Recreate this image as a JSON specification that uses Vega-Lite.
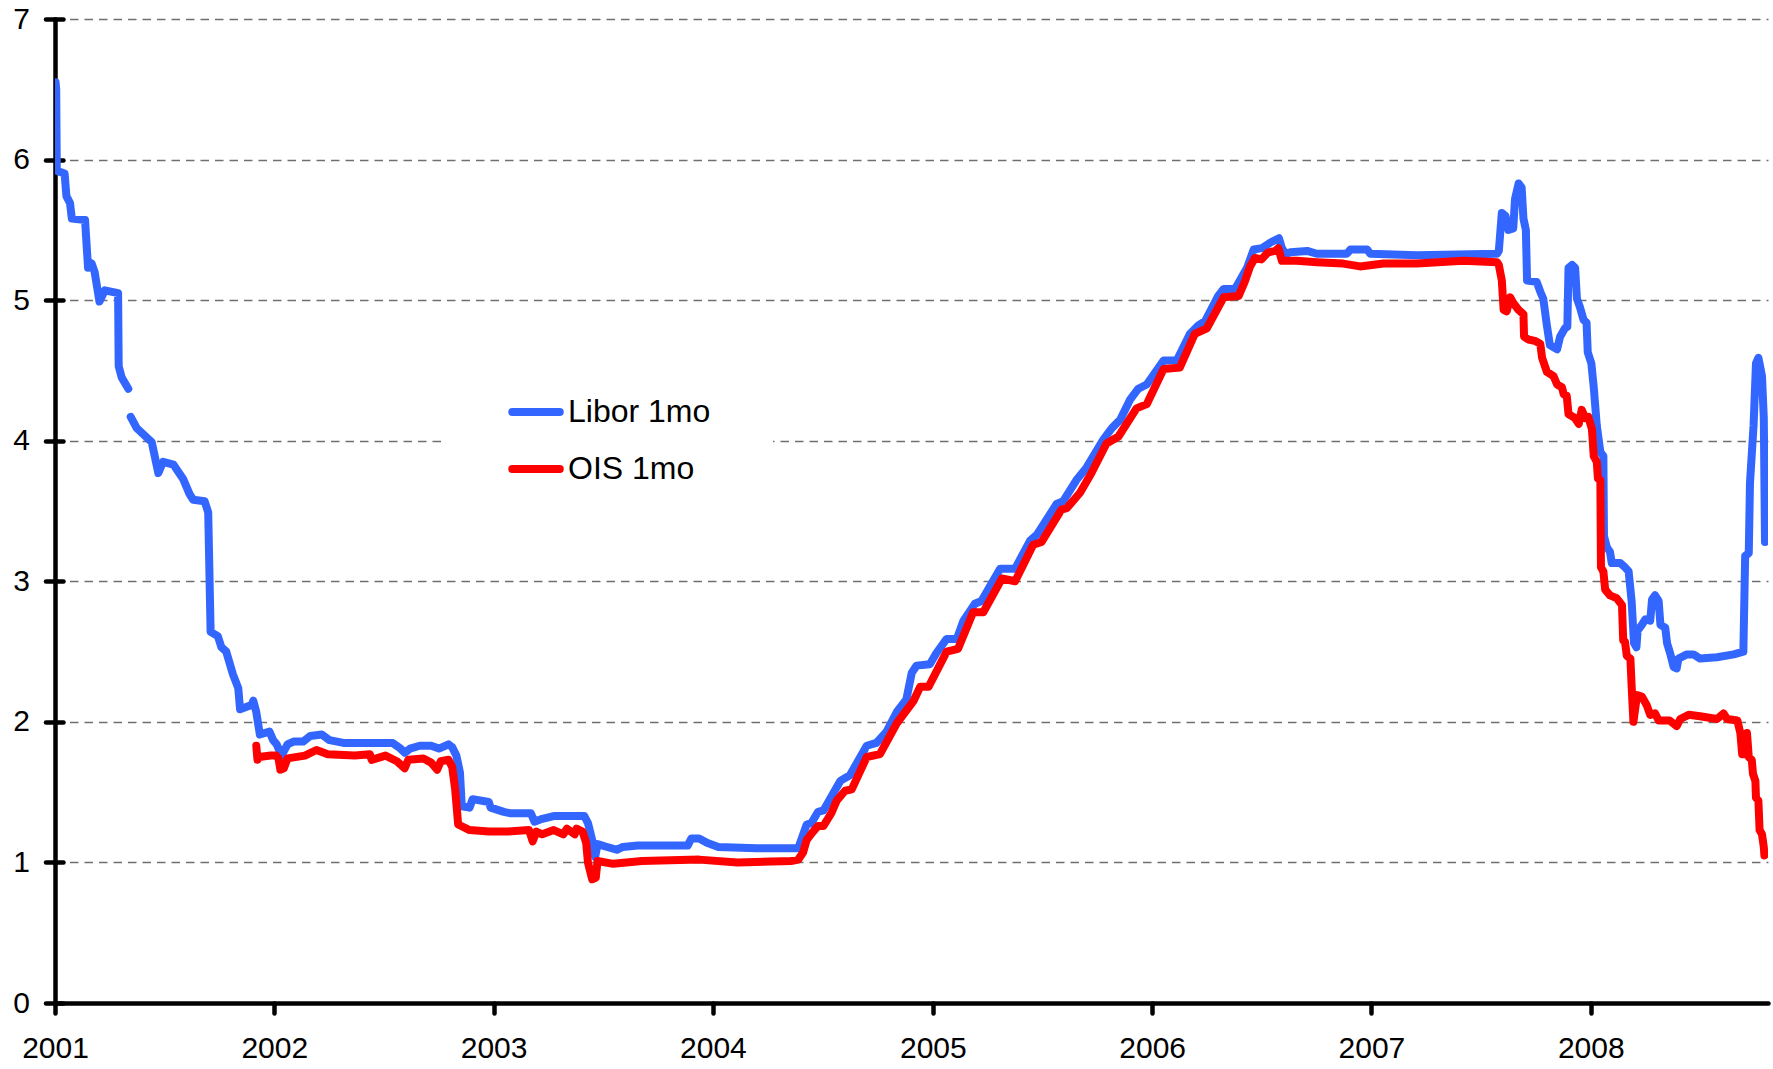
{
  "$schema": "https://vega.github.io/schema/vega-lite/v6.json",
  "width": 1713,
  "height": 984,
  "autosize": "none",
  "padding": {"left": 55, "top": 19, "right": 5, "bottom": 66},
  "background": "white",
  "config": {"view": {"stroke": null}, "font": "Liberation Sans"},
  "data": {"values": [
    {"date":"2001-01-02","series":"Libor 1mo","rate":6.55},
    {"date":"2001-01-03","series":"Libor 1mo","rate":6.50},
    {"date":"2001-01-04","series":"Libor 1mo","rate":5.92},
    {"date":"2001-01-17","series":"Libor 1mo","rate":5.90},
    {"date":"2001-01-20","series":"Libor 1mo","rate":5.74},
    {"date":"2001-01-26","series":"Libor 1mo","rate":5.69},
    {"date":"2001-01-29","series":"Libor 1mo","rate":5.58},
    {"date":"2001-02-20","series":"Libor 1mo","rate":5.57},
    {"date":"2001-02-25","series":"Libor 1mo","rate":5.23},
    {"date":"2001-03-03","series":"Libor 1mo","rate":5.26},
    {"date":"2001-03-08","series":"Libor 1mo","rate":5.20},
    {"date":"2001-03-16","series":"Libor 1mo","rate":4.99},
    {"date":"2001-03-25","series":"Libor 1mo","rate":5.07},
    {"date":"2001-04-16","series":"Libor 1mo","rate":5.05},
    {"date":"2001-04-17","series":"Libor 1mo","rate":4.53},
    {"date":"2001-04-22","series":"Libor 1mo","rate":4.45},
    {"date":"2001-05-03","series":"Libor 1mo","rate":4.37},
    {"date":"2001-05-04","series":"Libor 1mo","rate":null},
    {"date":"2001-05-07","series":"Libor 1mo","rate":4.17},
    {"date":"2001-05-17","series":"Libor 1mo","rate":4.09},
    {"date":"2001-06-11","series":"Libor 1mo","rate":3.99},
    {"date":"2001-06-22","series":"Libor 1mo","rate":3.77},
    {"date":"2001-06-30","series":"Libor 1mo","rate":3.85},
    {"date":"2001-07-17","series":"Libor 1mo","rate":3.83},
    {"date":"2001-08-02","series":"Libor 1mo","rate":3.73},
    {"date":"2001-08-13","series":"Libor 1mo","rate":3.62},
    {"date":"2001-08-19","series":"Libor 1mo","rate":3.58},
    {"date":"2001-09-07","series":"Libor 1mo","rate":3.57},
    {"date":"2001-09-13","series":"Libor 1mo","rate":3.49},
    {"date":"2001-09-17","series":"Libor 1mo","rate":2.64},
    {"date":"2001-09-29","series":"Libor 1mo","rate":2.61},
    {"date":"2001-10-05","series":"Libor 1mo","rate":2.53},
    {"date":"2001-10-13","series":"Libor 1mo","rate":2.50},
    {"date":"2001-10-24","series":"Libor 1mo","rate":2.34},
    {"date":"2001-11-02","series":"Libor 1mo","rate":2.24},
    {"date":"2001-11-05","series":"Libor 1mo","rate":2.09},
    {"date":"2001-11-24","series":"Libor 1mo","rate":2.12},
    {"date":"2001-11-27","series":"Libor 1mo","rate":2.15},
    {"date":"2001-12-02","series":"Libor 1mo","rate":2.07},
    {"date":"2001-12-08","series":"Libor 1mo","rate":1.91},
    {"date":"2001-12-24","series":"Libor 1mo","rate":1.93},
    {"date":"2001-12-30","series":"Libor 1mo","rate":1.87},
    {"date":"2002-01-05","series":"Libor 1mo","rate":1.84},
    {"date":"2002-01-13","series":"Libor 1mo","rate":1.76},
    {"date":"2002-01-23","series":"Libor 1mo","rate":1.84},
    {"date":"2002-02-02","series":"Libor 1mo","rate":1.86},
    {"date":"2002-02-18","series":"Libor 1mo","rate":1.86},
    {"date":"2002-03-02","series":"Libor 1mo","rate":1.90},
    {"date":"2002-03-21","series":"Libor 1mo","rate":1.91},
    {"date":"2002-04-03","series":"Libor 1mo","rate":1.87},
    {"date":"2002-04-26","series":"Libor 1mo","rate":1.85},
    {"date":"2002-07-17","series":"Libor 1mo","rate":1.85},
    {"date":"2002-07-30","series":"Libor 1mo","rate":1.81},
    {"date":"2002-08-06","series":"Libor 1mo","rate":1.78},
    {"date":"2002-08-15","series":"Libor 1mo","rate":1.81},
    {"date":"2002-08-31","series":"Libor 1mo","rate":1.83},
    {"date":"2002-09-19","series":"Libor 1mo","rate":1.83},
    {"date":"2002-10-02","series":"Libor 1mo","rate":1.81},
    {"date":"2002-10-18","series":"Libor 1mo","rate":1.84},
    {"date":"2002-10-24","series":"Libor 1mo","rate":1.82},
    {"date":"2002-10-31","series":"Libor 1mo","rate":1.76},
    {"date":"2002-11-06","series":"Libor 1mo","rate":1.64},
    {"date":"2002-11-09","series":"Libor 1mo","rate":1.40},
    {"date":"2002-11-22","series":"Libor 1mo","rate":1.39},
    {"date":"2002-11-27","series":"Libor 1mo","rate":1.45},
    {"date":"2002-12-24","series":"Libor 1mo","rate":1.43},
    {"date":"2002-12-27","series":"Libor 1mo","rate":1.39},
    {"date":"2003-01-18","series":"Libor 1mo","rate":1.36},
    {"date":"2003-01-28","series":"Libor 1mo","rate":1.35},
    {"date":"2003-03-04","series":"Libor 1mo","rate":1.35},
    {"date":"2003-03-10","series":"Libor 1mo","rate":1.29},
    {"date":"2003-03-23","series":"Libor 1mo","rate":1.31},
    {"date":"2003-04-11","series":"Libor 1mo","rate":1.33},
    {"date":"2003-06-01","series":"Libor 1mo","rate":1.33},
    {"date":"2003-06-07","series":"Libor 1mo","rate":1.28},
    {"date":"2003-06-14","series":"Libor 1mo","rate":1.16},
    {"date":"2003-06-19","series":"Libor 1mo","rate":1.04},
    {"date":"2003-06-23","series":"Libor 1mo","rate":1.13},
    {"date":"2003-07-09","series":"Libor 1mo","rate":1.11},
    {"date":"2003-07-25","series":"Libor 1mo","rate":1.09},
    {"date":"2003-08-04","series":"Libor 1mo","rate":1.11},
    {"date":"2003-08-29","series":"Libor 1mo","rate":1.12},
    {"date":"2003-11-20","series":"Libor 1mo","rate":1.12},
    {"date":"2003-11-26","series":"Libor 1mo","rate":1.17},
    {"date":"2003-12-09","series":"Libor 1mo","rate":1.17},
    {"date":"2003-12-22","series":"Libor 1mo","rate":1.14},
    {"date":"2004-01-10","series":"Libor 1mo","rate":1.11},
    {"date":"2004-03-14","series":"Libor 1mo","rate":1.10},
    {"date":"2004-05-22","series":"Libor 1mo","rate":1.10},
    {"date":"2004-06-05","series":"Libor 1mo","rate":1.27},
    {"date":"2004-06-13","series":"Libor 1mo","rate":1.28},
    {"date":"2004-06-24","series":"Libor 1mo","rate":1.36},
    {"date":"2004-07-03","series":"Libor 1mo","rate":1.37},
    {"date":"2004-07-31","series":"Libor 1mo","rate":1.58},
    {"date":"2004-08-16","series":"Libor 1mo","rate":1.62},
    {"date":"2004-09-13","series":"Libor 1mo","rate":1.83},
    {"date":"2004-09-29","series":"Libor 1mo","rate":1.85},
    {"date":"2004-10-16","series":"Libor 1mo","rate":1.93},
    {"date":"2004-11-02","series":"Libor 1mo","rate":2.07},
    {"date":"2004-11-18","series":"Libor 1mo","rate":2.16},
    {"date":"2004-11-27","series":"Libor 1mo","rate":2.35},
    {"date":"2004-12-05","series":"Libor 1mo","rate":2.40},
    {"date":"2004-12-27","series":"Libor 1mo","rate":2.41},
    {"date":"2005-01-07","series":"Libor 1mo","rate":2.49},
    {"date":"2005-01-24","series":"Libor 1mo","rate":2.59},
    {"date":"2005-02-10","series":"Libor 1mo","rate":2.59},
    {"date":"2005-02-21","series":"Libor 1mo","rate":2.72},
    {"date":"2005-03-12","series":"Libor 1mo","rate":2.84},
    {"date":"2005-03-23","series":"Libor 1mo","rate":2.86},
    {"date":"2005-04-23","series":"Libor 1mo","rate":3.09},
    {"date":"2005-05-18","series":"Libor 1mo","rate":3.09},
    {"date":"2005-06-12","series":"Libor 1mo","rate":3.29},
    {"date":"2005-06-23","series":"Libor 1mo","rate":3.33},
    {"date":"2005-07-26","series":"Libor 1mo","rate":3.55},
    {"date":"2005-08-06","series":"Libor 1mo","rate":3.57},
    {"date":"2005-08-28","series":"Libor 1mo","rate":3.72},
    {"date":"2005-09-14","series":"Libor 1mo","rate":3.81},
    {"date":"2005-10-12","series":"Libor 1mo","rate":4.01},
    {"date":"2005-10-26","series":"Libor 1mo","rate":4.09},
    {"date":"2005-11-09","series":"Libor 1mo","rate":4.15},
    {"date":"2005-11-25","series":"Libor 1mo","rate":4.29},
    {"date":"2005-12-09","series":"Libor 1mo","rate":4.37},
    {"date":"2005-12-23","series":"Libor 1mo","rate":4.40},
    {"date":"2006-01-20","series":"Libor 1mo","rate":4.57},
    {"date":"2006-02-11","series":"Libor 1mo","rate":4.57},
    {"date":"2006-03-05","series":"Libor 1mo","rate":4.76},
    {"date":"2006-03-19","series":"Libor 1mo","rate":4.82},
    {"date":"2006-03-30","series":"Libor 1mo","rate":4.85},
    {"date":"2006-04-21","series":"Libor 1mo","rate":5.03},
    {"date":"2006-04-30","series":"Libor 1mo","rate":5.08},
    {"date":"2006-05-19","series":"Libor 1mo","rate":5.08},
    {"date":"2006-06-08","series":"Libor 1mo","rate":5.23},
    {"date":"2006-06-19","series":"Libor 1mo","rate":5.36},
    {"date":"2006-07-03","series":"Libor 1mo","rate":5.37},
    {"date":"2006-07-17","series":"Libor 1mo","rate":5.41},
    {"date":"2006-07-31","series":"Libor 1mo","rate":5.44},
    {"date":"2006-08-05","series":"Libor 1mo","rate":5.37},
    {"date":"2006-08-11","series":"Libor 1mo","rate":5.33},
    {"date":"2006-08-19","series":"Libor 1mo","rate":5.34},
    {"date":"2006-09-16","series":"Libor 1mo","rate":5.35},
    {"date":"2006-10-02","series":"Libor 1mo","rate":5.33},
    {"date":"2006-11-21","series":"Libor 1mo","rate":5.33},
    {"date":"2006-11-27","series":"Libor 1mo","rate":5.36},
    {"date":"2006-12-25","series":"Libor 1mo","rate":5.36},
    {"date":"2006-12-30","series":"Libor 1mo","rate":5.33},
    {"date":"2007-03-18","series":"Libor 1mo","rate":5.32},
    {"date":"2007-07-29","series":"Libor 1mo","rate":5.33},
    {"date":"2007-08-01","series":"Libor 1mo","rate":5.35},
    {"date":"2007-08-06","series":"Libor 1mo","rate":5.62},
    {"date":"2007-08-12","series":"Libor 1mo","rate":5.60},
    {"date":"2007-08-17","series":"Libor 1mo","rate":5.50},
    {"date":"2007-08-25","series":"Libor 1mo","rate":5.51},
    {"date":"2007-08-28","series":"Libor 1mo","rate":5.72},
    {"date":"2007-09-03","series":"Libor 1mo","rate":5.83},
    {"date":"2007-09-08","series":"Libor 1mo","rate":5.80},
    {"date":"2007-09-11","series":"Libor 1mo","rate":5.58},
    {"date":"2007-09-15","series":"Libor 1mo","rate":5.50},
    {"date":"2007-09-17","series":"Libor 1mo","rate":5.14},
    {"date":"2007-10-03","series":"Libor 1mo","rate":5.13},
    {"date":"2007-10-09","series":"Libor 1mo","rate":5.06},
    {"date":"2007-10-14","series":"Libor 1mo","rate":5.01},
    {"date":"2007-10-20","series":"Libor 1mo","rate":4.82},
    {"date":"2007-10-25","series":"Libor 1mo","rate":4.68},
    {"date":"2007-11-06","series":"Libor 1mo","rate":4.65},
    {"date":"2007-11-11","series":"Libor 1mo","rate":4.74},
    {"date":"2007-11-19","series":"Libor 1mo","rate":4.80},
    {"date":"2007-11-23","series":"Libor 1mo","rate":4.81},
    {"date":"2007-11-25","series":"Libor 1mo","rate":5.23},
    {"date":"2007-12-01","series":"Libor 1mo","rate":5.25},
    {"date":"2007-12-06","series":"Libor 1mo","rate":5.23},
    {"date":"2007-12-09","series":"Libor 1mo","rate":5.01},
    {"date":"2007-12-14","series":"Libor 1mo","rate":4.95},
    {"date":"2007-12-20","series":"Libor 1mo","rate":4.86},
    {"date":"2007-12-25","series":"Libor 1mo","rate":4.84},
    {"date":"2007-12-27","series":"Libor 1mo","rate":4.63},
    {"date":"2008-01-02","series":"Libor 1mo","rate":4.55},
    {"date":"2008-01-06","series":"Libor 1mo","rate":4.38},
    {"date":"2008-01-11","series":"Libor 1mo","rate":4.11},
    {"date":"2008-01-17","series":"Libor 1mo","rate":3.92},
    {"date":"2008-01-22","series":"Libor 1mo","rate":3.89},
    {"date":"2008-01-23","series":"Libor 1mo","rate":3.32},
    {"date":"2008-01-28","series":"Libor 1mo","rate":3.24},
    {"date":"2008-02-02","series":"Libor 1mo","rate":3.21},
    {"date":"2008-02-05","series":"Libor 1mo","rate":3.13},
    {"date":"2008-02-19","series":"Libor 1mo","rate":3.13},
    {"date":"2008-02-27","series":"Libor 1mo","rate":3.10},
    {"date":"2008-03-04","series":"Libor 1mo","rate":3.07},
    {"date":"2008-03-09","series":"Libor 1mo","rate":2.86},
    {"date":"2008-03-13","series":"Libor 1mo","rate":2.56},
    {"date":"2008-03-17","series":"Libor 1mo","rate":2.53},
    {"date":"2008-03-19","series":"Libor 1mo","rate":2.65},
    {"date":"2008-03-26","series":"Libor 1mo","rate":2.69},
    {"date":"2008-04-01","series":"Libor 1mo","rate":2.73},
    {"date":"2008-04-09","series":"Libor 1mo","rate":2.72},
    {"date":"2008-04-12","series":"Libor 1mo","rate":2.87},
    {"date":"2008-04-17","series":"Libor 1mo","rate":2.90},
    {"date":"2008-04-23","series":"Libor 1mo","rate":2.86},
    {"date":"2008-04-26","series":"Libor 1mo","rate":2.69},
    {"date":"2008-05-04","series":"Libor 1mo","rate":2.67},
    {"date":"2008-05-07","series":"Libor 1mo","rate":2.56},
    {"date":"2008-05-12","series":"Libor 1mo","rate":2.49},
    {"date":"2008-05-18","series":"Libor 1mo","rate":2.39},
    {"date":"2008-05-23","series":"Libor 1mo","rate":2.38},
    {"date":"2008-05-26","series":"Libor 1mo","rate":2.45},
    {"date":"2008-06-09","series":"Libor 1mo","rate":2.48},
    {"date":"2008-06-20","series":"Libor 1mo","rate":2.48},
    {"date":"2008-07-01","series":"Libor 1mo","rate":2.45},
    {"date":"2008-07-29","series":"Libor 1mo","rate":2.46},
    {"date":"2008-08-26","series":"Libor 1mo","rate":2.48},
    {"date":"2008-09-11","series":"Libor 1mo","rate":2.50},
    {"date":"2008-09-14","series":"Libor 1mo","rate":3.18},
    {"date":"2008-09-20","series":"Libor 1mo","rate":3.20},
    {"date":"2008-09-22","series":"Libor 1mo","rate":3.70},
    {"date":"2008-09-28","series":"Libor 1mo","rate":4.11},
    {"date":"2008-10-02","series":"Libor 1mo","rate":4.55},
    {"date":"2008-10-06","series":"Libor 1mo","rate":4.59},
    {"date":"2008-10-12","series":"Libor 1mo","rate":4.46},
    {"date":"2008-10-15","series":"Libor 1mo","rate":4.16},
    {"date":"2008-10-17","series":"Libor 1mo","rate":3.28},
    {"date":"2001-12-02","series":"OIS 1mo","rate":1.83},
    {"date":"2001-12-04","series":"OIS 1mo","rate":1.73},
    {"date":"2001-12-07","series":"OIS 1mo","rate":1.75},
    {"date":"2001-12-26","series":"OIS 1mo","rate":1.76},
    {"date":"2002-01-04","series":"OIS 1mo","rate":1.76},
    {"date":"2002-01-08","series":"OIS 1mo","rate":1.74},
    {"date":"2002-01-11","series":"OIS 1mo","rate":1.66},
    {"date":"2002-01-17","series":"OIS 1mo","rate":1.67},
    {"date":"2002-01-23","series":"OIS 1mo","rate":1.74},
    {"date":"2002-02-21","series":"OIS 1mo","rate":1.76},
    {"date":"2002-03-12","series":"OIS 1mo","rate":1.80},
    {"date":"2002-03-31","series":"OIS 1mo","rate":1.77},
    {"date":"2002-05-15","series":"OIS 1mo","rate":1.76},
    {"date":"2002-06-09","series":"OIS 1mo","rate":1.77},
    {"date":"2002-06-12","series":"OIS 1mo","rate":1.73},
    {"date":"2002-07-05","series":"OIS 1mo","rate":1.76},
    {"date":"2002-07-24","series":"OIS 1mo","rate":1.72},
    {"date":"2002-08-06","series":"OIS 1mo","rate":1.67},
    {"date":"2002-08-12","series":"OIS 1mo","rate":1.73},
    {"date":"2002-09-06","series":"OIS 1mo","rate":1.74},
    {"date":"2002-09-19","series":"OIS 1mo","rate":1.71},
    {"date":"2002-09-29","series":"OIS 1mo","rate":1.66},
    {"date":"2002-10-05","series":"OIS 1mo","rate":1.72},
    {"date":"2002-10-18","series":"OIS 1mo","rate":1.73},
    {"date":"2002-10-24","series":"OIS 1mo","rate":1.68},
    {"date":"2002-10-29","series":"OIS 1mo","rate":1.52},
    {"date":"2002-11-03","series":"OIS 1mo","rate":1.27},
    {"date":"2002-11-22","series":"OIS 1mo","rate":1.23},
    {"date":"2002-12-24","series":"OIS 1mo","rate":1.22},
    {"date":"2003-01-25","series":"OIS 1mo","rate":1.22},
    {"date":"2003-03-01","series":"OIS 1mo","rate":1.23},
    {"date":"2003-03-07","series":"OIS 1mo","rate":1.15},
    {"date":"2003-03-13","series":"OIS 1mo","rate":1.22},
    {"date":"2003-03-23","series":"OIS 1mo","rate":1.20},
    {"date":"2003-04-11","series":"OIS 1mo","rate":1.23},
    {"date":"2003-04-27","series":"OIS 1mo","rate":1.20},
    {"date":"2003-05-03","series":"OIS 1mo","rate":1.24},
    {"date":"2003-05-16","series":"OIS 1mo","rate":1.20},
    {"date":"2003-05-19","series":"OIS 1mo","rate":1.24},
    {"date":"2003-05-29","series":"OIS 1mo","rate":1.22},
    {"date":"2003-06-04","series":"OIS 1mo","rate":1.14},
    {"date":"2003-06-07","series":"OIS 1mo","rate":1.00},
    {"date":"2003-06-14","series":"OIS 1mo","rate":0.88},
    {"date":"2003-06-20","series":"OIS 1mo","rate":0.89},
    {"date":"2003-06-23","series":"OIS 1mo","rate":1.01},
    {"date":"2003-07-19","series":"OIS 1mo","rate":0.99},
    {"date":"2003-09-05","series":"OIS 1mo","rate":1.01},
    {"date":"2003-12-09","series":"OIS 1mo","rate":1.02},
    {"date":"2004-02-11","series":"OIS 1mo","rate":1.00},
    {"date":"2004-05-10","series":"OIS 1mo","rate":1.01},
    {"date":"2004-05-22","series":"OIS 1mo","rate":1.02},
    {"date":"2004-05-30","series":"OIS 1mo","rate":1.07},
    {"date":"2004-06-05","series":"OIS 1mo","rate":1.16},
    {"date":"2004-06-14","series":"OIS 1mo","rate":1.21},
    {"date":"2004-06-24","series":"OIS 1mo","rate":1.26},
    {"date":"2004-07-03","series":"OIS 1mo","rate":1.26},
    {"date":"2004-07-16","series":"OIS 1mo","rate":1.35},
    {"date":"2004-07-25","series":"OIS 1mo","rate":1.44},
    {"date":"2004-08-08","series":"OIS 1mo","rate":1.51},
    {"date":"2004-08-19","series":"OIS 1mo","rate":1.52},
    {"date":"2004-09-13","series":"OIS 1mo","rate":1.75},
    {"date":"2004-10-05","series":"OIS 1mo","rate":1.77},
    {"date":"2004-11-02","series":"OIS 1mo","rate":1.99},
    {"date":"2004-11-30","series":"OIS 1mo","rate":2.15},
    {"date":"2004-12-11","series":"OIS 1mo","rate":2.25},
    {"date":"2004-12-25","series":"OIS 1mo","rate":2.25},
    {"date":"2005-01-24","series":"OIS 1mo","rate":2.50},
    {"date":"2005-02-12","series":"OIS 1mo","rate":2.52},
    {"date":"2005-03-09","series":"OIS 1mo","rate":2.78},
    {"date":"2005-03-26","series":"OIS 1mo","rate":2.78},
    {"date":"2005-04-26","series":"OIS 1mo","rate":3.02},
    {"date":"2005-05-18","series":"OIS 1mo","rate":3.00},
    {"date":"2005-06-17","series":"OIS 1mo","rate":3.26},
    {"date":"2005-07-01","series":"OIS 1mo","rate":3.28},
    {"date":"2005-08-03","series":"OIS 1mo","rate":3.51},
    {"date":"2005-08-12","series":"OIS 1mo","rate":3.52},
    {"date":"2005-09-03","series":"OIS 1mo","rate":3.63},
    {"date":"2005-09-22","series":"OIS 1mo","rate":3.77},
    {"date":"2005-10-17","series":"OIS 1mo","rate":3.98},
    {"date":"2005-11-06","series":"OIS 1mo","rate":4.03},
    {"date":"2005-12-06","series":"OIS 1mo","rate":4.23},
    {"date":"2005-12-23","series":"OIS 1mo","rate":4.26},
    {"date":"2006-01-20","series":"OIS 1mo","rate":4.51},
    {"date":"2006-02-16","series":"OIS 1mo","rate":4.52},
    {"date":"2006-03-13","series":"OIS 1mo","rate":4.76},
    {"date":"2006-04-02","series":"OIS 1mo","rate":4.80},
    {"date":"2006-04-30","series":"OIS 1mo","rate":5.02},
    {"date":"2006-05-25","series":"OIS 1mo","rate":5.03},
    {"date":"2006-06-04","series":"OIS 1mo","rate":5.13},
    {"date":"2006-06-13","series":"OIS 1mo","rate":5.24},
    {"date":"2006-06-21","series":"OIS 1mo","rate":5.30},
    {"date":"2006-07-02","series":"OIS 1mo","rate":5.29},
    {"date":"2006-07-13","series":"OIS 1mo","rate":5.34},
    {"date":"2006-07-25","series":"OIS 1mo","rate":5.35},
    {"date":"2006-07-30","series":"OIS 1mo","rate":5.37},
    {"date":"2006-08-05","series":"OIS 1mo","rate":5.28},
    {"date":"2006-08-30","series":"OIS 1mo","rate":5.28},
    {"date":"2006-10-02","series":"OIS 1mo","rate":5.27},
    {"date":"2006-11-15","series":"OIS 1mo","rate":5.26},
    {"date":"2006-12-13","series":"OIS 1mo","rate":5.24},
    {"date":"2007-01-21","series":"OIS 1mo","rate":5.26},
    {"date":"2007-03-17","series":"OIS 1mo","rate":5.26},
    {"date":"2007-06-03","series":"OIS 1mo","rate":5.28},
    {"date":"2007-07-29","series":"OIS 1mo","rate":5.27},
    {"date":"2007-08-01","series":"OIS 1mo","rate":5.25},
    {"date":"2007-08-06","series":"OIS 1mo","rate":5.14},
    {"date":"2007-08-09","series":"OIS 1mo","rate":4.93},
    {"date":"2007-08-14","series":"OIS 1mo","rate":4.92},
    {"date":"2007-08-20","series":"OIS 1mo","rate":5.02},
    {"date":"2007-08-25","series":"OIS 1mo","rate":4.98},
    {"date":"2007-09-03","series":"OIS 1mo","rate":4.93},
    {"date":"2007-09-11","series":"OIS 1mo","rate":4.90},
    {"date":"2007-09-12","series":"OIS 1mo","rate":4.74},
    {"date":"2007-09-19","series":"OIS 1mo","rate":4.72},
    {"date":"2007-09-30","series":"OIS 1mo","rate":4.71},
    {"date":"2007-10-09","series":"OIS 1mo","rate":4.69},
    {"date":"2007-10-12","series":"OIS 1mo","rate":4.59},
    {"date":"2007-10-20","series":"OIS 1mo","rate":4.49},
    {"date":"2007-10-31","series":"OIS 1mo","rate":4.46},
    {"date":"2007-11-06","series":"OIS 1mo","rate":4.40},
    {"date":"2007-11-14","series":"OIS 1mo","rate":4.38},
    {"date":"2007-11-17","series":"OIS 1mo","rate":4.33},
    {"date":"2007-11-22","series":"OIS 1mo","rate":4.32},
    {"date":"2007-11-25","series":"OIS 1mo","rate":4.19},
    {"date":"2007-12-06","series":"OIS 1mo","rate":4.16},
    {"date":"2007-12-12","series":"OIS 1mo","rate":4.12},
    {"date":"2007-12-17","series":"OIS 1mo","rate":4.22},
    {"date":"2007-12-23","series":"OIS 1mo","rate":4.16},
    {"date":"2007-12-28","series":"OIS 1mo","rate":4.17},
    {"date":"2008-01-03","series":"OIS 1mo","rate":4.08},
    {"date":"2008-01-06","series":"OIS 1mo","rate":3.89},
    {"date":"2008-01-11","series":"OIS 1mo","rate":3.85},
    {"date":"2008-01-13","series":"OIS 1mo","rate":3.73},
    {"date":"2008-01-17","series":"OIS 1mo","rate":3.72},
    {"date":"2008-01-18","series":"OIS 1mo","rate":3.10},
    {"date":"2008-01-22","series":"OIS 1mo","rate":3.07},
    {"date":"2008-01-25","series":"OIS 1mo","rate":2.94},
    {"date":"2008-02-02","series":"OIS 1mo","rate":2.90},
    {"date":"2008-02-13","series":"OIS 1mo","rate":2.88},
    {"date":"2008-02-22","series":"OIS 1mo","rate":2.83},
    {"date":"2008-02-24","series":"OIS 1mo","rate":2.58},
    {"date":"2008-02-27","series":"OIS 1mo","rate":2.57},
    {"date":"2008-03-01","series":"OIS 1mo","rate":2.47},
    {"date":"2008-03-07","series":"OIS 1mo","rate":2.45},
    {"date":"2008-03-09","series":"OIS 1mo","rate":2.26},
    {"date":"2008-03-12","series":"OIS 1mo","rate":2.00},
    {"date":"2008-03-18","series":"OIS 1mo","rate":2.19},
    {"date":"2008-03-26","series":"OIS 1mo","rate":2.18},
    {"date":"2008-04-03","series":"OIS 1mo","rate":2.12},
    {"date":"2008-04-09","series":"OIS 1mo","rate":2.05},
    {"date":"2008-04-17","series":"OIS 1mo","rate":2.06},
    {"date":"2008-04-23","series":"OIS 1mo","rate":2.01},
    {"date":"2008-05-11","series":"OIS 1mo","rate":2.01},
    {"date":"2008-05-23","series":"OIS 1mo","rate":1.97},
    {"date":"2008-05-29","series":"OIS 1mo","rate":2.02},
    {"date":"2008-06-12","series":"OIS 1mo","rate":2.05},
    {"date":"2008-07-01","series":"OIS 1mo","rate":2.04},
    {"date":"2008-07-29","series":"OIS 1mo","rate":2.02},
    {"date":"2008-08-09","series":"OIS 1mo","rate":2.06},
    {"date":"2008-08-15","series":"OIS 1mo","rate":2.02},
    {"date":"2008-09-01","series":"OIS 1mo","rate":2.01},
    {"date":"2008-09-06","series":"OIS 1mo","rate":1.92},
    {"date":"2008-09-09","series":"OIS 1mo","rate":1.77},
    {"date":"2008-09-14","series":"OIS 1mo","rate":1.77},
    {"date":"2008-09-17","series":"OIS 1mo","rate":1.92},
    {"date":"2008-09-20","series":"OIS 1mo","rate":1.75},
    {"date":"2008-09-25","series":"OIS 1mo","rate":1.73},
    {"date":"2008-09-27","series":"OIS 1mo","rate":1.63},
    {"date":"2008-10-01","series":"OIS 1mo","rate":1.58},
    {"date":"2008-10-02","series":"OIS 1mo","rate":1.46},
    {"date":"2008-10-06","series":"OIS 1mo","rate":1.44},
    {"date":"2008-10-08","series":"OIS 1mo","rate":1.23},
    {"date":"2008-10-12","series":"OIS 1mo","rate":1.20},
    {"date":"2008-10-15","series":"OIS 1mo","rate":1.11},
    {"date":"2008-10-16","series":"OIS 1mo","rate":1.05}
  ]},
  "encoding": {
    "x": {
      "field": "date", "type": "temporal",
      "scale": {"type": "utc", "domain": [{"year": 2001, "month": 1, "date": 1, "utc": true}, {"year": 2008, "month": 10, "date": 22, "utc": true}]},
      "axis": {
        "title": null, "format": "%Y", "grid": false, "labelFlush": false,
        "values": [
          {"year": 2001, "month": 1, "date": 1, "utc": true},
          {"year": 2002, "month": 1, "date": 1, "utc": true},
          {"year": 2003, "month": 1, "date": 1, "utc": true},
          {"year": 2004, "month": 1, "date": 1, "utc": true},
          {"year": 2005, "month": 1, "date": 1, "utc": true},
          {"year": 2006, "month": 1, "date": 1, "utc": true},
          {"year": 2007, "month": 1, "date": 1, "utc": true},
          {"year": 2008, "month": 1, "date": 1, "utc": true}
        ],
        "domainColor": "black", "domainWidth": 4.5, "domainCap": "round",
        "tickColor": "black", "tickWidth": 4.5, "tickSize": 10, "tickCap": "round",
        "labelFont": "Liberation Sans", "labelFontSize": 30, "labelColor": "black", "labelPadding": 20
      }
    },
    "y": {
      "field": "rate", "type": "quantitative",
      "scale": {"domain": [0, 7], "nice": false, "zero": true},
      "axis": {
        "title": null, "values": [0, 1, 2, 3, 4, 5, 6, 7],
        "grid": true, "gridColor": "#6f6f6f", "gridWidth": 1.3, "gridDash": [8.5, 6],
        "domainColor": "black", "domainWidth": 4.5, "domainCap": "round",
        "tickColor": "black", "tickWidth": 4.5, "tickSize": 9.5, "tickCap": "round",
        "labelFont": "Liberation Sans", "labelFontSize": 30, "labelColor": "black", "labelPadding": 16
      }
    },
    "color": {
      "field": "series", "type": "nominal",
      "scale": {"domain": ["Libor 1mo", "OIS 1mo"], "range": ["#3366FF", "#FF0000"]},
      "legend": {
        "title": null, "orient": "none", "legendX": 391, "legendY": 303,
        "symbolType": "stroke", "symbolSize": 2256, "symbolStrokeWidth": 8,
        "labelFont": "Liberation Sans", "labelFontSize": 32, "labelColor": "black", "labelLimit": 400,
        "labelOffset": 4, "rowPadding": 13, "padding": 62, "fillColor": "white",
        "encode": {"symbols": {"update": {"strokeCap": {"value": "round"}}}}
      }
    }
  },
  "layer": [
    {
      "transform": [{"filter": "datum.series === 'Libor 1mo'"}],
      "mark": {"type": "line", "strokeWidth": 8, "strokeCap": "round", "strokeJoin": "round", "invalid": "break-paths-show-domains", "clip": true}
    },
    {
      "transform": [{"filter": "datum.series === 'OIS 1mo'"}],
      "mark": {"type": "line", "strokeWidth": 8, "strokeCap": "round", "strokeJoin": "round", "invalid": "break-paths-show-domains", "clip": true},
      "encoding": {
        "y": {
          "field": "rate", "type": "quantitative",
          "scale": {"domain": [0, 7], "nice": false, "zero": true},
          "axis": {
            "orient": "left", "offset": -8, "title": null, "values": [0, 1, 2, 3, 4, 5, 6, 7],
            "grid": false, "domain": false, "labels": false,
            "tickColor": "black", "tickWidth": 4.5, "tickSize": 8, "tickCap": "round"
          }
        }
      }
    }
  ],
  "resolve": {"axis": {"y": "independent"}}
}
